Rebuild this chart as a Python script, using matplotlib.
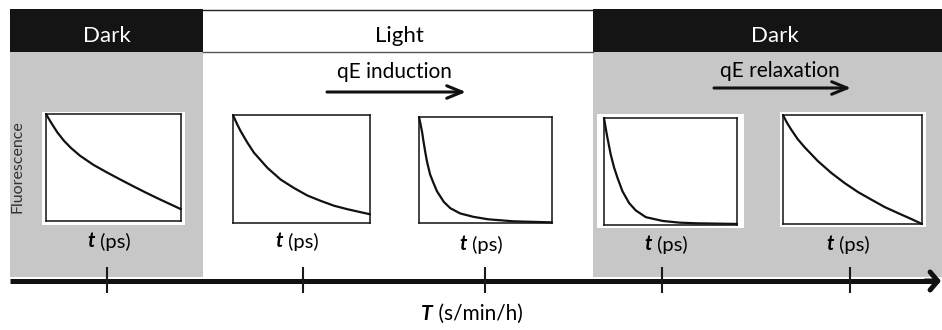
import matplotlib
matplotlib.use("Agg")
import matplotlib.pyplot as plt
from matplotlib.patches import Rectangle

plt.rcParams['font.family'] = ['Lato', 'DejaVu Sans']

# ---------------- data ----------------
phases = ["Dark", "Light", "Dark"]
phase_edges = [10, 203, 593, 942]          # header segment boundaries (px)
phase_text_x = [107, 399, 775]
T_ticks = [107, 303, 485, 662, 850]         # time points on the slow axis (px)
T_label = "T"
T_unit = " (s/min/h)"
t_label = "t"
t_unit = " (ps)"
y_label = "Fluorescence"
process_labels = ["qE induction", "qE relaxation"]

# fluorescence decay curves (normalised)
p1_t = [0.0, 0.035, 0.083, 0.133, 0.183, 0.252, 0.351, 0.45, 0.55, 0.649, 0.748, 0.847, 0.946, 1.0]
p1_f = [1.0, 0.925, 0.83, 0.75, 0.685, 0.61, 0.525, 0.455, 0.388, 0.323, 0.26, 0.2, 0.142, 0.11]

p2_t = [0.0, 0.028, 0.056, 0.105, 0.153, 0.251, 0.348, 0.445, 0.542, 0.64, 0.737, 0.834, 0.932, 1.0]
p2_f = [1.0, 0.92, 0.85, 0.744, 0.651, 0.511, 0.402, 0.324, 0.255, 0.205, 0.16, 0.128, 0.10, 0.081]

p3_t = [0.0, 0.012, 0.023, 0.035, 0.047, 0.06, 0.083, 0.108, 0.135, 0.186, 0.235, 0.31, 0.41, 0.52, 0.71, 1.0]
p3_f = [1.0, 0.93, 0.86, 0.76, 0.67, 0.58, 0.46, 0.38, 0.30, 0.20, 0.14, 0.09, 0.058, 0.035, 0.016, 0.006]

p4_t = [0.0, 0.012, 0.025, 0.05, 0.076, 0.101, 0.139, 0.189, 0.239, 0.315, 0.441, 0.567, 0.693, 1.0]
p4_f = [1.0, 0.91, 0.82, 0.662, 0.536, 0.442, 0.315, 0.205, 0.136, 0.073, 0.038, 0.022, 0.016, 0.01]

p5_t = [0.0, 0.028, 0.058, 0.105, 0.155, 0.251, 0.348, 0.444, 0.541, 0.638, 0.734, 0.831, 0.928, 1.0]
p5_f = [1.0, 0.93, 0.868, 0.78, 0.705, 0.577, 0.468, 0.375, 0.292, 0.222, 0.154, 0.098, 0.043, 0.0]

curves = [(p1_t, p1_f), (p2_t, p2_f), (p3_t, p3_f), (p4_t, p4_f), (p5_t, p5_f)]

# ---------------- layout ----------------
W, H = 942, 330
fig = plt.figure(figsize=(W / 100, H / 100), dpi=100)
bg = fig.add_axes([0, 0, 1, 1])
bg.set_xlim(0, W)
bg.set_ylim(H, 0)
bg.axis("off")

GRAY = "#c6c7c6"
BLACK = "#141414"

# gray "dark" regions
bg.add_patch(Rectangle((10, 52), 193, 225, facecolor=GRAY, edgecolor="none", zorder=0))
bg.add_patch(Rectangle((593, 52), 349, 225, facecolor=GRAY, edgecolor="none", zorder=0))

# header band
hdr_top, hdr_bot = 9, 52
hdr_colors = [BLACK, "white", BLACK]
txt_colors = ["white", "black", "white"]
for i, name in enumerate(phases):
    x0, x1 = phase_edges[i], phase_edges[i + 1]
    bg.add_patch(Rectangle((x0, hdr_top), x1 - x0, hdr_bot - hdr_top,
                           facecolor=hdr_colors[i], edgecolor="none", zorder=1))
    bg.text(phase_text_x[i], 42, name, color=txt_colors[i], fontsize=16,
            ha="center", va="baseline", zorder=3)
# border of the light header box
bg.plot([203, 593], [hdr_top + 0.5, hdr_top + 0.5], color="#222222", lw=1.0, zorder=2)
bg.plot([203, 593], [hdr_bot - 0.5, hdr_bot - 0.5], color="#555555", lw=1.0, zorder=2)

# process arrows
bg.text(394, 78, process_labels[0], fontsize=15, ha="center", va="baseline")
bg.annotate("", xy=(466, 92), xytext=(327, 92),
            arrowprops=dict(arrowstyle="->,head_length=1.1,head_width=0.45",
                            mutation_scale=10, lw=2.2, color="#111111",
                            shrinkA=0, shrinkB=0))
bg.text(780, 77, process_labels[1], fontsize=15, ha="center", va="baseline")
bg.annotate("", xy=(851, 88), xytext=(714, 88),
            arrowprops=dict(arrowstyle="->,head_length=1.1,head_width=0.45",
                            mutation_scale=10, lw=2.2, color="#111111",
                            shrinkA=0, shrinkB=0))

# slow time axis
bg.plot([10, 936], [281, 281], color="#111111", lw=3.6, solid_capstyle="butt", zorder=4)
bg.annotate("", xy=(941, 281), xytext=(925, 281),
            arrowprops=dict(arrowstyle="->,head_length=0.55,head_width=0.65",
                            mutation_scale=10, lw=3.6, color="#111111",
                            shrinkA=0, shrinkB=0), zorder=4)
bg.vlines(T_ticks, 267, 293, colors="#1a1a1a", lw=1.5, zorder=7)

tt = bg.text(433, 320, T_label, fontsize=15, fontweight="bold", fontstyle="italic",
             ha="right", va="baseline")
bg.annotate(T_unit, xy=(1, 0), xycoords=tt, fontsize=15, ha="left", va="bottom")

# fluorescence label
bg.text(18, 167, y_label, fontsize=11.5, rotation=90, ha="center", va="center",
        color="#333333")

# small panels: inner box (x0, y0, x1, y1) in px, white bg box or None, label baseline
boxes = [(46, 114, 181, 221), (233, 115, 370, 223), (419, 117, 552, 223),
         (604, 118, 737, 225), (783, 115, 922, 224)]
white_bgs = [(42, 112, 185, 225), None, None, (597, 114, 744, 228), (780, 112, 926, 227)]
label_base = [247, 247, 250, 250, 250]

for (x0, y0, x1, y1), wb, lb, (ct, cf) in zip(boxes, white_bgs, label_base, curves):
    if wb is not None:
        bg.add_patch(Rectangle((wb[0], wb[1]), wb[2] - wb[0], wb[3] - wb[1],
                               facecolor="white", edgecolor="none", zorder=1))
    ax = fig.add_axes([x0 / W, 1 - y1 / H, (x1 - x0) / W, (y1 - y0) / H])
    ax.plot(ct, cf, color="#111111", lw=1.6, clip_on=False, solid_capstyle="round",
            solid_joinstyle="round")
    ax.set_xlim(0, 1)
    ax.set_ylim(0, 1)
    ax.set_xticks([])
    ax.set_yticks([])
    for s in ax.spines.values():
        s.set_linewidth(1.1)
        s.set_color("#111111")
    cx = (x0 + x1) / 2 - 22
    tl = bg.text(cx, lb, t_label, fontsize=14.5, fontweight="bold", fontstyle="italic",
                 ha="center", va="baseline")
    bg.annotate(t_unit, xy=(1, 0), xycoords=tl, fontsize=14.5, ha="left", va="bottom")

fig.savefig("out.png", dpi=100)
